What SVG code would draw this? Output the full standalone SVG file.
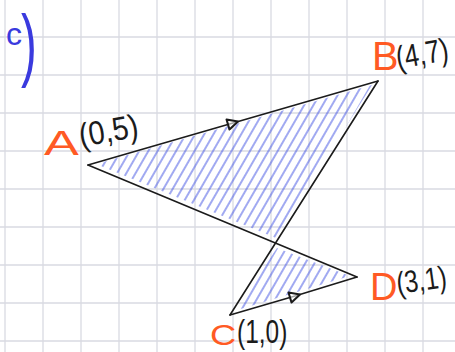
<svg xmlns="http://www.w3.org/2000/svg" width="455" height="352" viewBox="0 0 455 352">
  <style>
    .grid line { stroke: #d9dae2; stroke-width: 1.3; }
    .edge { fill: none; stroke: #1b1b1b; stroke-width: 1.6; stroke-linecap: round; stroke-linejoin: round; }
    .pt { font-family: "Liberation Sans", "DejaVu Sans", sans-serif; fill: #ff5a24; }
    .co { font-family: "Liberation Sans", "DejaVu Sans", sans-serif; fill: #1b1b1b; }
    .lbl { font-family: "Liberation Sans", "DejaVu Sans", sans-serif; fill: #3a3ade; }
  </style>
  <defs>
    <pattern id="hatch" patternUnits="userSpaceOnUse" width="8" height="10" patternTransform="rotate(30)">
      <line x1="4" y1="0" x2="4" y2="10" stroke="#3f50e2" stroke-width="1.1" stroke-opacity="0.9"/>
    </pattern>
    <marker id="mid-arrow" viewBox="0 0 10 10" refX="5" refY="5" markerUnits="userSpaceOnUse" markerWidth="14" markerHeight="13" orient="auto">
      <path d="M1,1 L9,5 L1,9 Z" fill="#ffffff" fill-opacity="0.6" stroke="#1b1b1b" stroke-width="1.6" stroke-linejoin="round"/>
    </marker>
  </defs>

  <rect x="0" y="0" width="455" height="352" fill="#ffffff"/>

  <g id="grid" class="grid">
    <line x1="5" y1="0" x2="5" y2="352"/>
    <line x1="43" y1="0" x2="43" y2="352"/>
    <line x1="81" y1="0" x2="81" y2="352"/>
    <line x1="119" y1="0" x2="119" y2="352"/>
    <line x1="157" y1="0" x2="157" y2="352"/>
    <line x1="195" y1="0" x2="195" y2="352"/>
    <line x1="233" y1="0" x2="233" y2="352"/>
    <line x1="271" y1="0" x2="271" y2="352"/>
    <line x1="309" y1="0" x2="309" y2="352"/>
    <line x1="347" y1="0" x2="347" y2="352"/>
    <line x1="385" y1="0" x2="385" y2="352"/>
    <line x1="423" y1="0" x2="423" y2="352"/>
    <line x1="0" y1="37" x2="455" y2="37"/>
    <line x1="0" y1="75" x2="455" y2="75"/>
    <line x1="0" y1="113" x2="455" y2="113"/>
    <line x1="0" y1="151" x2="455" y2="151"/>
    <line x1="0" y1="189" x2="455" y2="189"/>
    <line x1="0" y1="227" x2="455" y2="227"/>
    <line x1="0" y1="265" x2="455" y2="265"/>
    <line x1="0" y1="303" x2="455" y2="303"/>
    <line x1="0" y1="341" x2="455" y2="341"/>
  </g>

  <g id="shading">
    <polygon points="96,164 372,85 276,238" fill="url(#hatch)"/>
    <polygon points="277,248 350,276 234,311" fill="url(#hatch)"/>
  </g>

  <g id="connectors">
    <polyline class="edge" points="88,165 233,123 378,81" marker-mid="url(#mid-arrow)"/>
    <line class="edge" x1="378" y1="81" x2="230" y2="315"/>
    <polyline class="edge" points="230,315 295,296 357,277" marker-mid="url(#mid-arrow)"/>
    <line class="edge" x1="357" y1="277" x2="88" y2="165"/>
  </g>

  <g id="node-A">
    <text class="pt" font-size="36" transform="translate(44 155) scale(1.45 1)">A</text>
    <text class="co" font-size="33" transform="translate(81 147) rotate(-10) scale(0.88 1)">(0,5)</text>
  </g>
  <g id="node-B">
    <text class="pt" font-size="41" transform="translate(372 70) scale(0.97 1)">B</text>
    <text class="co" font-size="32" transform="translate(398 69) rotate(-10) scale(0.8 1)">(4,7)</text>
  </g>
  <g id="node-C">
    <text class="pt" font-size="29" transform="translate(210 345) scale(1.25 1)">C</text>
    <text class="co" font-size="34" transform="translate(237 343) scale(0.72 1)">(1,0)</text>
  </g>
  <g id="node-D">
    <text class="pt" font-size="38" transform="translate(370 300)">D</text>
    <text class="co" font-size="31" transform="translate(398 294) rotate(-8) scale(0.79 1)">(3,1)</text>
  </g>

  <g id="part-label">
    <text class="lbl" x="6" y="45" font-size="32">c</text>
    <text class="lbl" x="0" y="71" font-size="79" transform="translate(21 0) scale(0.6 1)">)</text>
  </g>
</svg>
